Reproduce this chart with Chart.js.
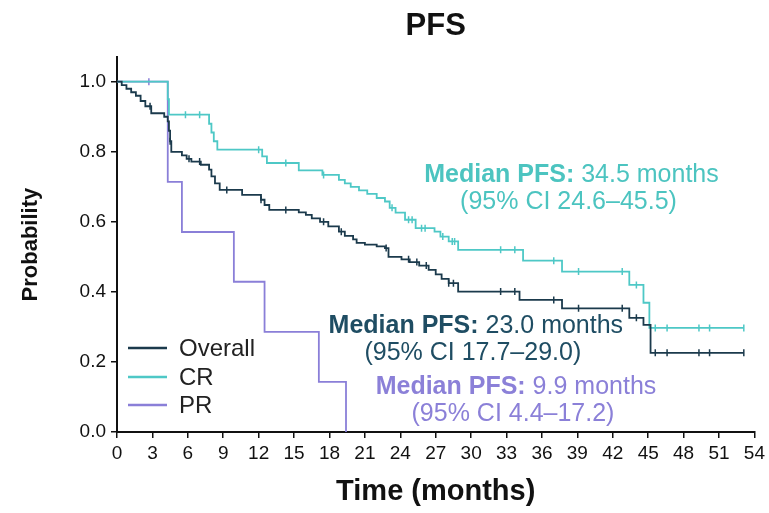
<!DOCTYPE html>
<html>
<head>
<meta charset="utf-8">
<script src="https://cdn.jsdelivr.net/npm/chart.js"></script>
<style>
  html, body { margin: 0; padding: 0; background: #fff; }
  #wrap { width: 769px; height: 513px; }
</style>
</head>
<body>
<div id="wrap"><canvas id="pfsChart" width="769" height="513"></canvas></div>
<script>
// --- Kaplan-Meier data (months, probability) ---
const overallTime = [0, 0.4, 0.8, 1.2, 1.6, 2.0, 2.4, 2.9, 4.0, 4.3, 4.4, 4.5, 4.6, 5.5, 5.9, 6.3, 7.1, 7.8, 8.0, 8.3, 8.7, 10.6, 12.2, 12.5, 12.9, 15.4, 16.0, 16.5, 17.2, 17.9, 18.8, 19.3, 20.0, 20.3, 21.0, 22.0, 22.7, 23.0, 24.1, 24.8, 25.6, 26.4, 27.0, 27.5, 28.1, 28.9, 34.1, 37.7, 43.4, 44.6, 45.2, 53.1];
const overallSurv = [1.0, 0.99, 0.98, 0.97, 0.96, 0.945, 0.93, 0.91, 0.9, 0.887, 0.86, 0.83, 0.80, 0.79, 0.78, 0.772, 0.763, 0.749, 0.73, 0.71, 0.691, 0.677, 0.663, 0.648, 0.634, 0.627, 0.62, 0.61, 0.6, 0.587, 0.572, 0.56, 0.55, 0.54, 0.535, 0.53, 0.525, 0.5, 0.493, 0.485, 0.475, 0.463, 0.45, 0.437, 0.425, 0.401, 0.377, 0.353, 0.326, 0.306, 0.226, 0.226];

const crTime = [0, 4.3, 4.4, 7.8, 8.0, 8.2, 8.5, 12.3, 12.7, 15.4, 17.4, 18.8, 19.3, 19.8, 20.5, 21.2, 22.0, 22.7, 23.1, 23.6, 24.4, 25.3, 26.9, 27.4, 28.1, 28.9, 34.4, 37.7, 43.4, 44.6, 45.1, 53.1];
const crSurv = [1.0, 0.95, 0.906, 0.88, 0.855, 0.83, 0.806, 0.787, 0.768, 0.747, 0.734, 0.72, 0.71, 0.7, 0.69, 0.68, 0.668, 0.658, 0.64, 0.626, 0.606, 0.582, 0.572, 0.558, 0.544, 0.52, 0.489, 0.458, 0.42, 0.369, 0.297, 0.297];

const prTime = [0, 4.3, 5.5, 9.9, 12.5, 17.1, 19.4];
const prSurv = [1.0, 0.714, 0.571, 0.429, 0.286, 0.143, 0.0];

// censor marks
const overallCensorTime = [2.8, 4.5, 6.1, 7.0, 9.3, 12.2, 14.3, 17.5, 19.0, 22.8, 24.7, 25.4, 26.2, 28.1, 28.5, 32.5, 33.7, 37.0, 39.1, 42.8, 44.0, 45.6, 46.6, 49.3, 50.2, 53.1];
const overallCensorSurv = [0.93, 0.83, 0.78, 0.772, 0.691, 0.663, 0.634, 0.6, 0.572, 0.525, 0.493, 0.485, 0.475, 0.425, 0.425, 0.401, 0.401, 0.377, 0.353, 0.353, 0.326, 0.226, 0.226, 0.226, 0.226, 0.226];
const crCensorTime = [5.8, 7.0, 12.0, 14.3, 17.5, 23.3, 24.7, 25.0, 25.8, 26.1, 27.6, 28.4, 28.6, 32.5, 33.7, 37.0, 39.1, 42.8, 44.0, 45.6, 46.6, 49.3, 50.2, 53.1];
const crCensorSurv = [0.906, 0.906, 0.806, 0.768, 0.734, 0.64, 0.606, 0.606, 0.582, 0.582, 0.558, 0.544, 0.544, 0.52, 0.52, 0.489, 0.458, 0.458, 0.42, 0.297, 0.297, 0.297, 0.297, 0.297];
const prCensorTime = [2.7];
const prCensorSurv = [1.0];

const groupLabels = ['Overall', 'CR', 'PR'];
const medianText = ['23.0 months', '34.5 months', '9.9 months'];
const ciText = ['(95% CI 17.7\u201329.0)', '(95% CI 24.6\u201345.5)', '(95% CI 4.4\u201317.2)'];

const xMax = 54;
const xStep = 3;
const yTickValues = [0, 0.2, 0.4, 0.6, 0.8, 1.0];

const NAVY = '#1b3a4c';
const CYAN = '#4ec8c6';
const PURPLE = '#8a7fd8';
const FONT = "'Liberation Sans', Arial, sans-serif";

const toPoints = (xs, ys) => xs.map((x, i) => ({ x: x, y: ys[i] }));

// --- legend drawn inside the plot, bottom-left ---
const insideLegend = {
    id: 'insideLegend',
    afterDraw(chart) {
        const { ctx, chartArea } = chart;
        const rows = [84, 55, 27];
        ctx.save();
        ctx.font = '24px ' + FONT;
        ctx.textBaseline = 'middle';
        for (let i = 0; i < 3; i++) {
            const ds = chart.data.datasets[i];
            const y = chartArea.bottom - rows[i];
            ctx.strokeStyle = ds.borderColor;
            ctx.lineWidth = 2.5;
            ctx.beginPath();
            ctx.moveTo(chartArea.left + 11, y);
            ctx.lineTo(chartArea.left + 50, y);
            ctx.stroke();
            ctx.fillStyle = '#222';
            ctx.fillText(ds.label, chartArea.left + 62, y + 1);
        }
        ctx.restore();
    }
};

// --- median PFS annotations (anchored in data units) ---
const notes = [
    { x: 30.4, y: 0.303, color: '#1f4d63', med: medianText[0], ci: ciText[0] },
    { x: 38.5, y: 0.734, color: '#4cc4c0', med: medianText[1], ci: ciText[1] },
    { x: 33.8, y: 0.129, color: '#8b80d8', med: medianText[2], ci: ciText[2] }
];

const medianNotes = {
    id: 'medianNotes',
    afterDraw(chart) {
        const { ctx, scales: { x, y } } = chart;
        ctx.save();
        ctx.textBaseline = 'middle';
        notes.forEach(n => {
            const cx = x.getPixelForValue(n.x);
            const cy = y.getPixelForValue(n.y);
            const boldPart = 'Median PFS:';
            const normPart = ' ' + n.med;
            ctx.font = 'bold 25px ' + FONT;
            const wb = ctx.measureText(boldPart).width;
            ctx.font = '25px ' + FONT;
            const wn = ctx.measureText(normPart).width;
            const left = cx - (wb + wn) / 2;
            ctx.fillStyle = n.color;
            ctx.textAlign = 'left';
            ctx.font = 'bold 25px ' + FONT;
            ctx.fillText(boldPart, left, cy);
            ctx.font = '25px ' + FONT;
            ctx.fillText(normPart, left + wb, cy);
            ctx.textAlign = 'center';
            ctx.fillText(n.ci, cx - 3, cy + 27);
        });
        ctx.restore();
    }
};

const censorStyle = {
    type: 'scatter',
    showLine: false,
    pointStyle: 'line',
    rotation: 90,
    pointRadius: 3.5,
    pointBorderWidth: 1.5,
    pointHoverRadius: 3.5
};

new Chart(document.getElementById('pfsChart'), {
    type: 'line',
    data: {
        datasets: [
            { label: groupLabels[0], data: toPoints(overallTime, overallSurv), borderColor: NAVY, borderWidth: 1.8, stepped: true, pointRadius: 0, fill: false },
            { label: groupLabels[1], data: toPoints(crTime, crSurv), borderColor: CYAN, borderWidth: 1.8, stepped: true, pointRadius: 0, fill: false },
            { label: groupLabels[2], data: toPoints(prTime, prSurv), borderColor: PURPLE, borderWidth: 1.8, stepped: true, pointRadius: 0, fill: false },
            { ...censorStyle, label: 'Overall censored', data: toPoints(overallCensorTime, overallCensorSurv), borderColor: NAVY, pointBorderColor: NAVY },
            { ...censorStyle, label: 'CR censored', data: toPoints(crCensorTime, crCensorSurv), borderColor: CYAN, pointBorderColor: CYAN },
            { ...censorStyle, label: 'PR censored', data: toPoints(prCensorTime, prCensorSurv), borderColor: PURPLE, pointBorderColor: PURPLE }
        ]
    },
    options: {
        responsive: false,
        animation: false,
        layout: { padding: { left: 0, right: 11, top: 0, bottom: 0 } },
        plugins: {
            legend: { display: false },
            tooltip: { enabled: false },
            title: {
                display: true,
                text: 'PFS',
                fullSize: false,
                color: '#111',
                font: { family: FONT, size: 31, weight: 'bold' },
                padding: { top: 8, bottom: 12 }
            }
        },
        scales: {
            x: {
                type: 'linear',
                min: 0,
                max: xMax,
                afterFit(scale) { scale.height = 81; },
                ticks: { stepSize: xStep, color: '#111', padding: 4, font: { family: FONT, size: 19 } },
                grid: { drawOnChartArea: false, drawTicks: true, tickLength: 6, color: '#111', lineWidth: 1.5 },
                border: { color: '#111', width: 2 },
                title: { display: true, text: 'Time (months)', color: '#111', font: { family: FONT, size: 29, weight: 'bold' }, padding: { top: 0, bottom: 4 } }
            },
            y: {
                min: 0,
                max: 1.07,
                afterFit(scale) { scale.width = 117; },
                afterBuildTicks(scale) { scale.ticks = yTickValues.map(v => ({ value: v })); },
                ticks: { color: '#111', padding: 5, font: { family: FONT, size: 19 }, callback: v => v.toFixed(1) },
                grid: { drawOnChartArea: false, drawTicks: true, tickLength: 6, color: '#111', lineWidth: 1.5 },
                border: { color: '#111', width: 2 },
                title: { display: true, text: 'Probability', color: '#111', font: { family: FONT, size: 22, weight: 'bold' }, padding: { top: 18, bottom: 0 } }
            }
        }
    },
    plugins: [insideLegend, medianNotes]
});
</script>
</body>
</html>
